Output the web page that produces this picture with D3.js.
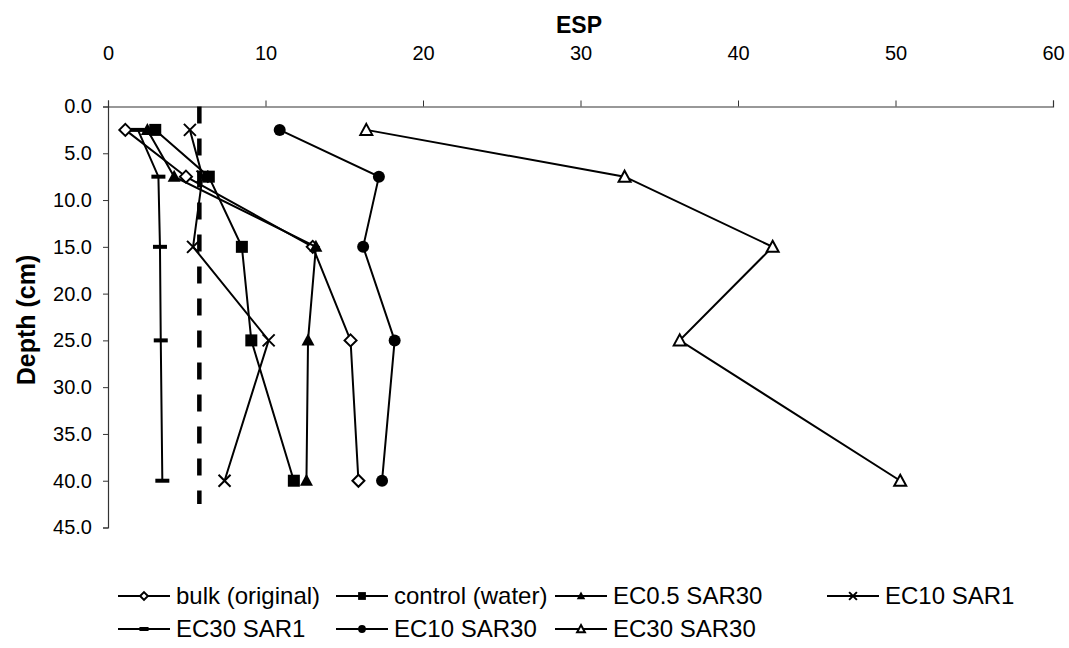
<!DOCTYPE html>
<html>
<head>
<meta charset="utf-8">
<script src="https://cdn.jsdelivr.net/npm/d3@7"></script>
<style>
  html, body { margin: 0; padding: 0; background: #fff; }
  svg { display: block; font-family: Arial, "Liberation Sans", sans-serif; }
</style>
</head>
<body>
<svg id="chart" width="1069" height="648"></svg>
<script>
// Sampling depths (cm) shared by every profile
const depths = [2.5, 7.5, 15, 25, 40];

// ESP values per treatment at each depth
const bulkOriginal = [1.1, 4.95, 13.0, 15.4, 15.9];
const controlWater = [3.0, 6.4, 8.5, 9.1, 11.8];
const ec05Sar30    = [2.5, 4.2, 13.2, 12.7, 12.6];
const ec10Sar1     = [5.2, 6.0, 5.4, 10.2, 7.4];
const ec30Sar1     = [1.9, 3.2, 3.3, 3.35, 3.45];
const ec10Sar30    = [10.9, 17.2, 16.2, 18.2, 17.4];
const ec30Sar30    = [16.4, 32.8, 42.2, 36.3, 50.3];

const seriesNames = ["bulk (original)", "control (water)", "EC0.5 SAR30", "EC10 SAR1",
                     "EC30 SAR1", "EC10 SAR30", "EC30 SAR30"];
const seriesValues = [bulkOriginal, controlWater, ec05Sar30, ec10Sar1, ec30Sar1, ec10Sar30, ec30Sar30];
const seriesMarkers = ["diamond", "square", "triangle", "cross", "dash", "circle", "triangleOpen"];

// Vertical ESP threshold line
const thresholdEsp = [5.8, 5.8];
const thresholdDepth = [0, 42.5];

// Axis ticks
const espTicks = [0, 10, 20, 30, 40, 50, 60];
const depthTicks = [0, 5, 10, 15, 20, 25, 30, 35, 40, 45];

const svg = d3.select("#chart");

const x = d3.scaleLinear().domain([0, 60]).range([108, 1053]);
const y = d3.scaleLinear().domain([0, 45]).range([106.5, 527.5]);

// Top (ESP) axis
const xAxis = d3.axisTop(x).tickValues(espTicks).tickSize(6).tickPadding(41).tickFormat(d3.format("d"));
const gx = svg.append("g").attr("transform", `translate(0,${y(0)})`).call(xAxis);
gx.select(".domain").attr("stroke", "#333").attr("stroke-width", 1.2);
gx.selectAll(".tick line").attr("stroke", "#333");
gx.selectAll(".tick text").attr("font-size", 20).attr("fill", "#000");

// Left (depth) axis
const yAxis = d3.axisLeft(y).tickValues(depthTicks).tickSize(5).tickPadding(11).tickFormat(d3.format(".1f"));
const gy = svg.append("g").attr("transform", `translate(${x(0)},0)`).call(yAxis);
gy.select(".domain").attr("stroke", "#333").attr("stroke-width", 1.2);
gy.selectAll(".tick line").attr("stroke", "#333");
gy.selectAll(".tick text").attr("font-size", 20).attr("fill", "#000");

// Axis titles
svg.append("text").attr("x", 579).attr("y", 33).attr("text-anchor", "middle")
  .attr("font-size", 23).attr("font-weight", "bold").text("ESP");
svg.append("text").attr("transform", "translate(35,320) rotate(-90)").attr("text-anchor", "middle")
  .attr("font-size", 25).attr("font-weight", "bold").text("Depth (cm)");

// Threshold dashed line
const thresholdLine = d3.line().x(d => x(d[0])).y(d => y(d[1]));
svg.append("path")
  .attr("d", thresholdLine(d3.zip(thresholdEsp, thresholdDepth)))
  .attr("fill", "none").attr("stroke", "#000").attr("stroke-width", 4.5)
  .attr("stroke-dasharray", "17,15");

// Marker drawing
function drawMarker(g, type, scale) {
  const s = scale;
  switch (type) {
    case "diamond":
      g.append("path").attr("d", `M0,${-6*s}L${6*s},0L0,${6*s}L${-6*s},0Z`)
        .attr("fill", "#fff").attr("stroke", "#000").attr("stroke-width", 2);
      break;
    case "square":
      g.append("rect").attr("x", -6*s).attr("y", -6*s).attr("width", 12*s).attr("height", 12*s)
        .attr("fill", "#000");
      break;
    case "triangle":
      g.append("path").attr("d", `M0,${-7*s}L${6.5*s},${5*s}L${-6.5*s},${5*s}Z`).attr("fill", "#000");
      break;
    case "triangleOpen":
      g.append("path").attr("d", `M0,${-6*s}L${6*s},${5*s}L${-6*s},${5*s}Z`)
        .attr("fill", "#fff").attr("stroke", "#000").attr("stroke-width", 2);
      break;
    case "cross":
      g.append("path").attr("d", `M${-6*s},${-6*s}L${6*s},${6*s}M${6*s},${-6*s}L${-6*s},${6*s}`)
        .attr("stroke", "#000").attr("stroke-width", 2);
      break;
    case "dash":
      g.append("rect").attr("x", -7*s).attr("y", -2).attr("width", 14*s).attr("height", 4)
        .attr("fill", "#000");
      break;
    case "circle":
      g.append("circle").attr("r", 6*s).attr("fill", "#000");
      break;
  }
}

const line = d3.line().x(d => x(d[0])).y(d => y(d[1]));

seriesValues.forEach((vals, i) => {
  const pts = d3.zip(vals, depths);
  const g = svg.append("g").attr("class", "series");
  g.append("path").attr("d", line(pts))
    .attr("fill", "none").attr("stroke", "#000").attr("stroke-width", 2);
  pts.forEach(p => {
    const m = g.append("g").attr("transform", `translate(${x(p[0])},${y(p[1])})`);
    drawMarker(m, seriesMarkers[i], 1);
  });
});

// Legend
const legendLineStart = [118, 336, 555, 827, 118, 336, 555];
const legendRow = [0, 0, 0, 0, 1, 1, 1];
const legendRowY = [596, 629];
const legend = svg.append("g");
seriesNames.forEach((name, i) => {
  const x0 = legendLineStart[i];
  const yy = legendRowY[legendRow[i]];
  const item = legend.append("g");
  item.append("line").attr("x1", x0).attr("x2", x0 + 52).attr("y1", yy).attr("y2", yy)
    .attr("stroke", "#000").attr("stroke-width", 2);
  const m = item.append("g").attr("transform", `translate(${x0 + 26},${yy})`);
  drawMarker(m, seriesMarkers[i], 0.65);
  item.append("text").attr("x", x0 + 58).attr("y", yy + 8).attr("font-size", 24).text(name);
});
</script>
</body>
</html>
